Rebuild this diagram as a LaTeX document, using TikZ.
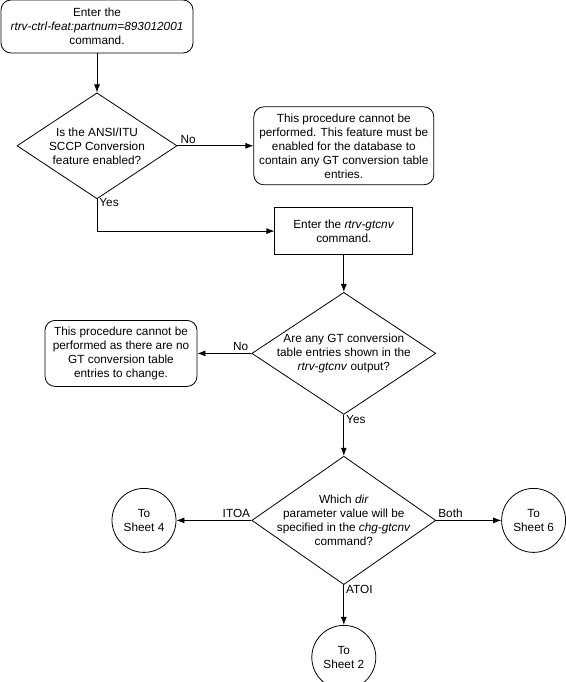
\documentclass[tikz,border=0pt]{standalone}
\usepackage{fontspec}
\setmainfont{Liberation Sans}
\usetikzlibrary{shapes.geometric, positioning, arrows.meta}

\tikzset{
  proc/.style={draw, rectangle, align=center, inner sep=2pt},
  term/.style={draw, rectangle, rounded corners=10pt, align=center, inner sep=2pt},
  decision/.style={draw, diamond, align=center, inner sep=-14pt},
  sheet/.style={draw, circle, align=center, inner sep=0pt, minimum size=64pt},
  lbl/.style={inner sep=2pt},
  flow/.style={->, >={Latex[length=8pt,width=6pt]}},
}

\begin{document}
\begin{tikzpicture}[x=1pt, y=1pt, line width=0.8pt, font=\fontsize{11.8}{14}\selectfont]
\useasboundingbox (0,0) rectangle (565,-682);

\node[term, minimum width=192pt, minimum height=53pt] (start) at (97,-26.5)
  {Enter the\\ \textit{rtrv-ctrl-feat:partnum=893012001}\\ command.};
\node[decision, minimum width=160pt, minimum height=106pt] (featon) [below=39pt of start]
  {Is the ANSI/ITU\\ SCCP Conversion\\ feature enabled?};
\node[term, minimum width=180pt, minimum height=78pt] (nofeat) [right=76pt of featon]
  {This procedure cannot be\\ performed. This feature must be\\ enabled for the database to\\ contain any GT conversion table\\ entries.};
\node[proc, minimum width=138pt, minimum height=47pt] (gtcnv) [below=22pt of nofeat]
  {Enter the \textit{rtrv-gtcnv}\\ command.};
\node[decision, minimum width=184pt, minimum height=122pt] (anyent) [below=37pt of gtcnv]
  {Are any GT conversion\\ table entries shown in the\\ \textit{rtrv-gtcnv} output?};
\node[term, minimum width=152pt, minimum height=66pt] (noent) [left=54pt of anyent]
  {This procedure cannot be\\ performed as there are no\\ GT conversion table\\ entries to change.};
\node[decision, minimum width=184pt, minimum height=122pt] (dirval) [below=41pt of anyent]
  {Which \textit{dir}\\ parameter value will be\\ specified in the \textit{chg-gtcnv}\\ command?};
\node[sheet] (sheet4) [left=75pt of dirval] {To\\ Sheet 4};
\node[sheet] (sheet6) [right=65pt of dirval] {To\\ Sheet 6};
\node[sheet] (sheet2) [below=40pt of dirval] {To\\ Sheet 2};

\draw[flow] (start) -- (featon);
\draw[flow] (featon) -- node[lbl, pos=0.14, above] (no1) {No} (nofeat);
\draw[flow] (featon.south) |- node[lbl, pos=0.05, right] (yes1) {Yes} (gtcnv.west);
\draw[flow] (gtcnv) -- (anyent);
\draw[flow] (anyent) -- node[lbl, pos=0.2, above] (no2) {No} (noent);
\draw[flow] (anyent) -- node[lbl, pos=0.12, right] (yes2) {Yes} (dirval);
\draw[flow] (dirval) -- node[lbl, pos=0.2, above] (itoa) {ITOA} (sheet4);
\draw[flow] (dirval) -- node[lbl, pos=0.22, above] (both) {Both} (sheet6);
\draw[flow] (dirval) -- node[lbl, pos=0.12, right] (atoi) {ATOI} (sheet2);
\end{tikzpicture}
\end{document}
